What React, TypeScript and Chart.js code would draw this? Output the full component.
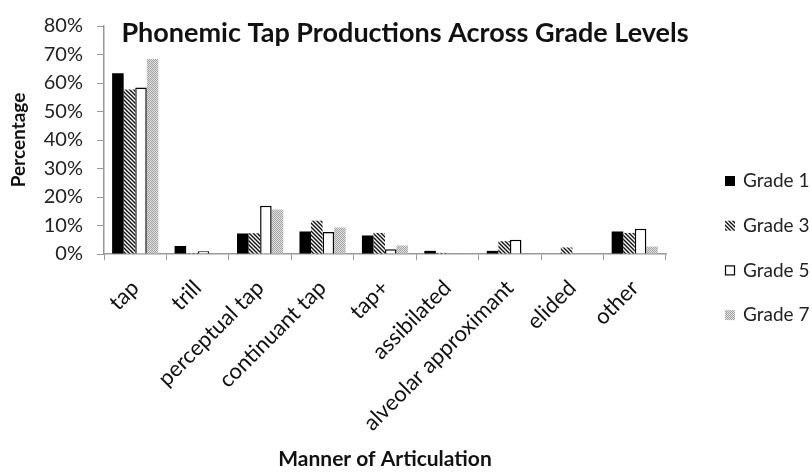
import React, { useEffect, useRef } from "react";
import { Chart, registerables } from "chart.js";

Chart.register(...registerables);

const categories = [
  "tap",
  "trill",
  "perceptual tap",
  "continuant tap",
  "tap+",
  "assibilated",
  "alveolar approximant",
  "elided",
  "other",
];

const seriesNames = ["Grade 1", "Grade 3", "Grade 5", "Grade 7"];

const grade1 = [63.4, 2.8, 7.2, 7.9, 6.5, 1.1, 1.1, 0, 7.9];
const grade3 = [57.7, 0.3, 7.3, 11.7, 7.4, 0.4, 4.5, 2.3, 7.4];
const grade5 = [58.4, 1.0, 16.9, 7.7, 1.7, 0, 5.0, 0, 8.9];
const grade7 = [68.4, 0, 15.6, 9.3, 3.0, 0.2, 0, 0, 2.6];

const yTicks = [0, 10, 20, 30, 40, 50, 60, 70, 80];

const FONT = "Lato, 'Open Sans', sans-serif";

function hatchPattern(): CanvasPattern | string {
  const c = document.createElement("canvas");
  c.width = 4;
  c.height = 4;
  const g = c.getContext("2d");
  if (!g) return "#555";
  g.fillStyle = "#ffffff";
  g.fillRect(0, 0, 4, 4);
  g.strokeStyle = "#111111";
  g.lineWidth = 1.4;
  g.beginPath();
  g.moveTo(-1, -1);
  g.lineTo(5, 5);
  g.moveTo(-1, 3);
  g.lineTo(1, 5);
  g.moveTo(3, -1);
  g.lineTo(5, 1);
  g.stroke();
  return g.createPattern(c, "repeat") || "#555";
}

function dotPattern(): CanvasPattern | string {
  const c = document.createElement("canvas");
  c.width = 2;
  c.height = 2;
  const g = c.getContext("2d");
  if (!g) return "#bbb";
  g.fillStyle = "#e4e4e4";
  g.fillRect(0, 0, 2, 2);
  g.fillStyle = "#a0a0a0";
  g.fillRect(0, 0, 1, 1);
  g.fillRect(1, 1, 1, 1);
  return g.createPattern(c, "repeat") || "#bbb";
}

const titlePlugin = {
  id: "chartHeading",
  afterDraw(chart: Chart) {
    const { ctx } = chart;
    ctx.save();
    ctx.font = `bold 27px ${FONT}`;
    ctx.fillStyle = "#111";
    ctx.textAlign = "center";
    ctx.textBaseline = "middle";
    ctx.fillText("Phonemic Tap Productions Across Grade Levels", 405, 33);
    ctx.restore();
  },
};

const sideLegend = {
  id: "sideLegend",
  afterDraw(chart: Chart) {
    const { ctx, chartArea } = chart;
    const x0 = chartArea.right + 59;
    const yStart = 181;
    const step = 44.7;
    ctx.save();
    chart.data.datasets.forEach((ds: any, i: number) => {
      const y = yStart + i * step;
      const s = 10;
      ctx.fillStyle = ds.backgroundColor;
      ctx.fillRect(x0, y - s / 2, s, s);
      if (ds.borderWidth) {
        ctx.strokeStyle = ds.borderColor;
        ctx.lineWidth = 1.2;
        ctx.strokeRect(x0 + 0.5, y - s / 2 + 0.5, s - 1, s - 1);
      }
      ctx.fillStyle = "#222";
      ctx.font = `19px ${FONT}`;
      ctx.textAlign = "left";
      ctx.textBaseline = "middle";
      ctx.fillText(ds.label, x0 + 18, y);
    });
    ctx.restore();
  },
};

export default function App() {
  const ref = useRef<HTMLCanvasElement | null>(null);

  useEffect(() => {
    const canvas = ref.current;
    if (!canvas) return;
    const values = [grade1, grade3, grade5, grade7];
    const fills = ["#000000", hatchPattern(), "#ffffff", dotPattern()];
    const borders = [0, 0, 1.5, 0];

    const chart = new Chart(canvas, {
      type: "bar",
      data: {
        labels: categories,
        datasets: seriesNames.map((name, i) => ({
          label: name,
          data: values[i],
          backgroundColor: fills[i] as any,
          borderColor: "#000000",
          borderWidth: borders[i],
          categoryPercentage: 0.74,
          barPercentage: 1,
        })),
      },
      options: {
        responsive: false,
        animation: false,
        layout: { padding: { top: 19, right: 146, left: 0, bottom: 0 } },
        plugins: {
          legend: { display: false },
          tooltip: { enabled: false },
        },
        scales: {
          x: {
            grid: {
              offset: true,
              drawOnChartArea: false,
              drawTicks: true,
              tickLength: 6,
              color: "#999",
            },
            border: { color: "#999", width: 1.5 },
            ticks: {
              color: "#111",
              font: { family: FONT, size: 22 },
              minRotation: 45,
              maxRotation: 45,
              padding: 15,
            },
            title: {
              display: true,
              text: "Manner of Articulation",
              color: "#111",
              font: { family: FONT, size: 21, weight: "bold" },
              padding: { top: 0, bottom: 2 },
            },
            afterFit(scale: any) {
              scale.height = 220;
            },
          },
          y: {
            min: 0,
            max: 80,
            afterBuildTicks(scale: any) {
              scale.ticks = yTicks.map((v) => ({ value: v }));
            },
            grid: {
              drawOnChartArea: false,
              drawTicks: true,
              tickLength: 7,
              color: "#999",
            },
            border: { color: "#999", width: 1.5 },
            ticks: {
              color: "#222",
              font: { family: FONT, size: 20 },
              padding: 14,
              callback: (v: any) => `${v}%`,
            },
            title: {
              display: true,
              text: "Percentage",
              color: "#111",
              font: { family: FONT, size: 19, weight: "bold" },
              padding: { top: 7, bottom: 0 },
            },
            afterFit(scale: any) {
              scale.width = 104;
            },
          },
        },
      },
      plugins: [titlePlugin, sideLegend],
    });
    return () => chart.destroy();
  }, []);

  return (
    <div style={{ position: "fixed", left: 0, top: 0, width: 812, height: 474, background: "#fff" }}>
      <canvas ref={ref} width={812} height={474} />
    </div>
  );
}
